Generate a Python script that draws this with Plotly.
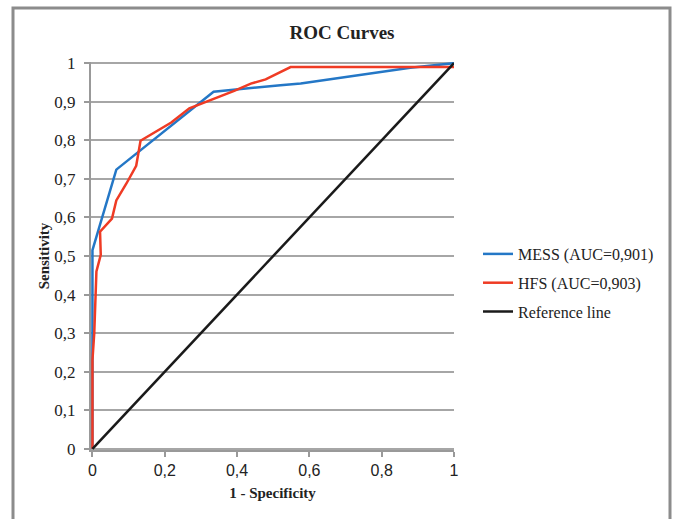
import plotly.graph_objects as go

# --- data ---
mess_fpr = [0, 0, 0.066, 0.335, 0.52, 0.576, 0.879, 1.0]
mess_tpr = [0, 0.515, 0.724, 0.926, 0.943, 0.947, 0.988, 1.0]

hfs_fpr = [0, 0, 0.005, 0.011, 0.023, 0.021, 0.054, 0.066, 0.094, 0.121, 0.133,
           0.218, 0.268, 0.332, 0.392, 0.438, 0.479, 0.548, 1.0]
hfs_tpr = [0, 0.23, 0.30, 0.46, 0.503, 0.563, 0.597, 0.644, 0.688, 0.734, 0.799,
           0.846, 0.883, 0.906, 0.928, 0.947, 0.958, 0.99, 0.99]

ref_x = [0, 1]
ref_y = [0, 1]

x_ticks = [0, 0.2, 0.4, 0.6, 0.8, 1]
x_ticktext = ["0", "0,2", "0,4", "0,6", "0,8", "1"]
y_ticks = [0, 0.1, 0.2, 0.3, 0.4, 0.5, 0.6, 0.7, 0.8, 0.9, 1]
y_ticktext = ["0", "0,1", "0,2", "0,3", "0,4", "0,5", "0,6", "0,7", "0,8", "0,9", "1"]

names = ["MESS (AUC=0,901)", "HFS (AUC=0,903)", "Reference line"]
colors = ["#2477c6", "#ef3b24", "#1a1a1a"]

W, H = 674, 519
L, R, T, B = 91, 674 - 454, 62, 519 - 450

fig = go.Figure()
for xs, ys, nm, c in [(mess_fpr, mess_tpr, names[0], colors[0]),
                      (hfs_fpr, hfs_tpr, names[1], colors[1]),
                      (ref_x, ref_y, names[2], colors[2])]:
    fig.add_trace(go.Scatter(x=xs, y=ys, mode="lines", name=nm, legendgroup=nm,
                             line=dict(color=c, width=2.5)))

pw = W - L - R
ph = H - T - B
def px2x(p):
    return (p - L) / pw
def py2y(p):
    return (H - B - p) / ph

fig.add_shape(type="rect", xref="paper", yref="paper",
              x0=px2x(13), x1=px2x(670), y0=py2y(540), y1=py2y(8),
              line=dict(color="#8c8c8c", width=3), fillcolor="rgba(0,0,0,0)")

fig.update_layout(
    width=W, height=H,
    margin=dict(l=L, r=R, t=T, b=B),
    paper_bgcolor="white", plot_bgcolor="white",
    title=dict(text="ROC Curves", x=342 / W, xref="container", xanchor="center",
               y=1 - 32 / H, yref="container", yanchor="middle",
               font=dict(family="Liberation Serif", size=19, color="#222", weight="bold")),
    legend=dict(x=px2x(478), y=py2y(283), xanchor="left", yanchor="middle",
                font=dict(family="Liberation Serif", size=16, color="#222"),
                tracegroupgap=5, bgcolor="rgba(0,0,0,0)"),
    xaxis=dict(range=[-0.004, 1.0], tickvals=x_ticks, ticktext=x_ticktext,
               showgrid=False, zeroline=False, showline=True, linecolor="#999",
               linewidth=2, ticks="outside", ticklen=5, tickwidth=1.5, tickcolor="#999",
               tickfont=dict(family="Liberation Sans", size=16, color="#222"),
               layer="below traces",
               title=dict(text="1 - Specificity", standoff=9,
                          font=dict(family="Liberation Serif", size=15, color="#222", weight="bold"))),
    yaxis=dict(range=[-0.003, 1.003], tickvals=y_ticks, ticktext=y_ticktext,
               showgrid=True, gridcolor="#a6a6a6", gridwidth=2,
               zeroline=False, showline=True, linecolor="#999",
               linewidth=2, ticks="outside", ticklen=5, tickwidth=1.5, tickcolor="#999",
               tickfont=dict(family="Liberation Serif", size=17, color="#222"),
               ticklabelstandoff=5,
               layer="below traces",
               title=dict(text="Sensitivity", standoff=1,
                          font=dict(family="Liberation Serif", size=15, color="#222", weight="bold"))),
)

fig.write_html("out.html")
